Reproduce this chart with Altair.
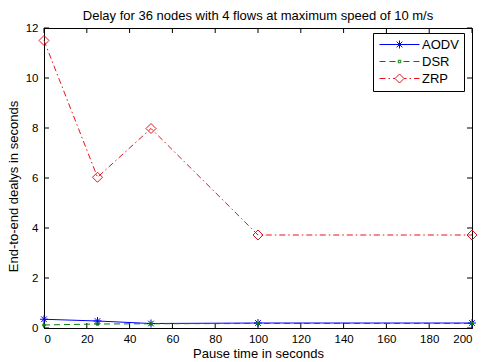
import altair as alt
import pandas as pd

# ---- data ----
pause_time = [0, 25, 50, 100, 200]
aodv = [0.35, 0.28, 0.18, 0.20, 0.20]
dsr = [0.12, 0.16, 0.17, 0.18, 0.18]
zrp = [11.5, 6.03, 7.98, 3.72, 3.72]
series_names = ["AODV", "DSR", "ZRP"]
series_colors = ["#0000ff", "#008000", "#e8101c"]
x_ticks = [0, 20, 40, 60, 80, 100, 120, 140, 160, 180, 200]
y_ticks = [0, 2, 4, 6, 8, 10, 12]

rows = []
for name, vals in zip(series_names, [aodv, dsr, zrp]):
    for x, v in zip(pause_time, vals):
        rows.append({"pause": x, "delay": v, "protocol": name})
df = pd.DataFrame(rows)
xt = pd.DataFrame({"pause": x_ticks})
yt = pd.DataFrame({"delay": y_ticks})

W, H = 428, 300
FONT = "Liberation Sans"

xs = alt.Scale(domain=[0, 200], nice=False, zero=False)
ys = alt.Scale(domain=[0, 12], nice=False, zero=False)

xenc = alt.X("pause:Q", scale=xs, axis=alt.Axis(values=x_ticks, title="Pause time in seconds",
                                                tickSize=0, labelPadding=5, titlePadding=3, grid=False))
yenc = alt.Y("delay:Q", scale=ys, axis=alt.Axis(values=y_ticks, title="End-to-end dealys in seconds",
                                                tickSize=0, labelPadding=6, titlePadding=5, grid=False,
                                                titleY=158))

asterisk = "M-1,0L1,0M0,-1L0,1M-0.7,-0.7L0.7,0.7M-0.7,0.7L0.7,-0.7"

def line_layer(name, color, dash):
    m = alt.Chart(df).transform_filter(alt.datum.protocol == name)
    kw = dict(color=color, strokeWidth=1, clip=False)
    if dash:
        kw["strokeDash"] = dash
    return m.mark_line(**kw).encode(x=xenc, y=yenc)

lines = [
    line_layer("AODV", series_colors[0], None),
    line_layer("DSR", series_colors[1], [6, 4]),
    line_layer("ZRP", series_colors[2], [6, 3, 1.5, 3]),
]

base = alt.Chart(df)
markers = [
    base.transform_filter(alt.datum.protocol == "AODV").mark_point(
        shape=asterisk, size=64, filled=False, color=series_colors[0], strokeWidth=1, opacity=1, clip=False
    ).encode(x=xenc, y=yenc),
    base.transform_filter(alt.datum.protocol == "DSR").mark_point(
        shape="circle", size=14, filled=True, color=series_colors[1], opacity=1, clip=False
    ).encode(x=xenc, y=yenc),
    base.transform_filter(alt.datum.protocol == "ZRP").mark_point(
        shape="diamond", size=100, filled=False, color=series_colors[2], strokeWidth=1, opacity=1, clip=False
    ).encode(x=xenc, y=yenc),
]

# legend symbols: line + marker drawn as one path (unit = 5 px)
leg_aodv = "M-1,0L7,0M3,-0.8L3,0.8M2.43,-0.57L3.57,0.57M2.43,0.57L3.57,-0.57"
leg_dsr = ("M-1,0L0.2,0M1,0L2.2,0M3.8,0L5,0M5.8,0L7,0"
           "M2.75,-0.25L3.25,-0.25L3.25,0.25L2.75,0.25Z")
leg_zrp = ("M-1,0L0.2,0M0.8,0L1.1,0M1.7,0L2.1,0M3.9,0L4.4,0M5,0L5.3,0M5.9,0L7,0"
           "M3,-0.9L3.9,0L3,0.9L2.1,0Z")

legend_layer = base.mark_point(opacity=0, filled=False, size=100).encode(
    x=xenc, y=yenc,
    color=alt.Color("protocol:N", scale=alt.Scale(domain=series_names, range=series_colors), title=None,
                    legend=alt.Legend(orient="none", legendX=329, legendY=5)),
    shape=alt.Shape("protocol:N", scale=alt.Scale(domain=series_names, range=[leg_aodv, leg_dsr, leg_zrp]),
                    title=None, legend=alt.Legend(orient="none", legendX=329, legendY=5)),
)

tick_len = 5
ticks = [
    alt.Chart(xt).mark_rule(color="black", strokeWidth=1).encode(
        x=alt.X("pause:Q", scale=xs), y=alt.value(H), y2=alt.value(H - tick_len)),
    alt.Chart(xt).mark_rule(color="black", strokeWidth=1).encode(
        x=alt.X("pause:Q", scale=xs), y=alt.value(0), y2=alt.value(tick_len)),
    alt.Chart(yt).mark_rule(color="black", strokeWidth=1).encode(
        y=alt.Y("delay:Q", scale=ys), x=alt.value(0), x2=alt.value(tick_len)),
    alt.Chart(yt).mark_rule(color="black", strokeWidth=1).encode(
        y=alt.Y("delay:Q", scale=ys), x=alt.value(W), x2=alt.value(W - tick_len)),
]

chart = alt.layer(*ticks, *lines, *markers, legend_layer).properties(
    width=W, height=H,
    autosize=alt.AutoSizeParams(type="none"),
    padding={"left": 44, "top": 28, "right": 9, "bottom": 34},
    title=alt.Title("Delay for 36 nodes with 4 flows at maximum speed of 10 m/s",
                    font=FONT, fontSize=13, fontWeight="normal", color="black",
                    anchor="middle", frame="group", baseline="alphabetic", offset=7, dy=18),
).configure(background="white").configure_view(
    stroke="black", strokeWidth=1
).configure_axis(
    domainColor="black", domainWidth=1, labelFont=FONT, labelFontSize=11.5, labelColor="black",
    titleFont=FONT, titleFontSize=13, titleFontWeight="normal", titleColor="black",
).configure_legend(
    strokeColor="black", fillColor="white", padding=5, labelFont=FONT, labelFontSize=13,
    labelColor="black", symbolSize=100, symbolStrokeWidth=1, symbolOpacity=1,
    labelOffset=31, rowPadding=3, cornerRadius=0,
)

chart.save("out.html", embed_options={"renderer": "svg", "actions": False})
